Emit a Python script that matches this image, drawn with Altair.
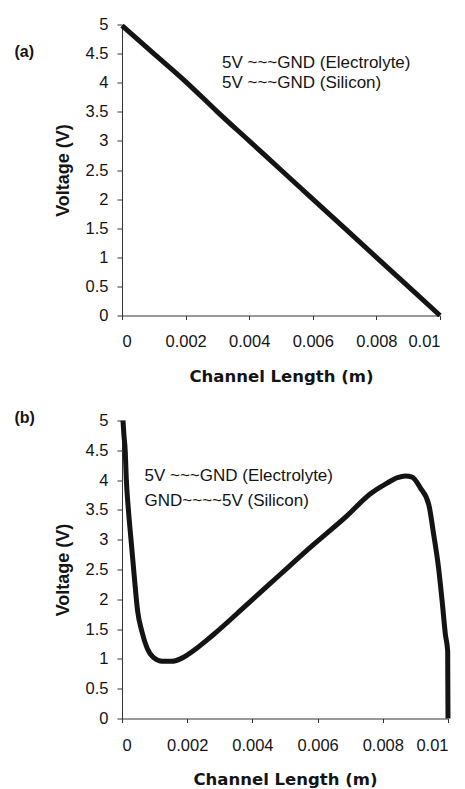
import altair as alt
import pandas as pd

# ---------------- data ----------------
# Panel (a): 5V ~~~GND on both electrolyte and silicon
a_length = [0.0, 0.001, 0.002, 0.003, 0.004, 0.005, 0.006, 0.007, 0.008, 0.009, 0.01]
a_voltage = [4.98, 4.5, 4.02, 3.5, 3.0, 2.5, 2.0, 1.5, 1.0, 0.5, 0.0]

# Panel (b): 5V ~~~GND electrolyte, GND~~~5V silicon
b_length = [0.00003, 0.00006, 0.0001, 0.00013, 0.0002, 0.00029, 0.00038, 0.00048,
            0.00061, 0.00077, 0.00097, 0.00123, 0.00153, 0.00179, 0.00204, 0.00281,
            0.00383, 0.00486, 0.00588, 0.0069, 0.00762, 0.00813, 0.00845, 0.00869,
            0.0089, 0.00915, 0.00941, 0.00956, 0.00971, 0.00982, 0.00992, 0.00999, 0.01]
b_voltage = [5.0, 4.75, 4.48, 4.04, 3.48, 2.92, 2.36, 1.80,
             1.46, 1.18, 1.02, 0.96, 0.96, 1.0, 1.08, 1.41,
             1.91, 2.42, 2.92, 3.40, 3.77, 3.95, 4.04, 4.07,
             4.05, 3.87, 3.59, 3.09, 2.53, 1.97, 1.41, 1.13, 0.0]

x_ticks = [0, 0.002, 0.004, 0.006, 0.008, 0.01]
y_ticks = [0, 0.5, 1, 1.5, 2, 2.5, 3, 3.5, 4, 4.5, 5]

a_legend = ["5V ~~~GND (Electrolyte)", "5V ~~~GND (Silicon)"]
b_legend = ["5V ~~~GND (Electrolyte)", "GND~~~~5V (Silicon)"]
x_title = "Channel Length (m)"
y_title = "Voltage (V)"

FONT = "Liberation Sans"
XFONT = "DejaVu Sans"
INK = "#141414"


def panel(length, voltage, legend, tag, width, height, leg_x, leg_y1, leg_y2,
          tag_y, label_pad, title_pad):
    df = pd.DataFrame({"length": length, "voltage": voltage})
    x = alt.X("length:Q",
              scale=alt.Scale(domain=[0, 0.01], nice=False),
              axis=alt.Axis(values=x_ticks, format="~g", title=x_title, grid=False,
                            tickSize=4, labelPadding=label_pad, titlePadding=title_pad,
                            titleFont=XFONT, titleFontSize=16.5))
    y = alt.Y("voltage:Q",
              scale=alt.Scale(domain=[0, 5], nice=False),
              axis=alt.Axis(values=y_ticks, format="~g", title=y_title, grid=False,
                            tickSize=5, labelPadding=9, titlePadding=13,
                            titleFont=FONT, titleFontSize=18))
    line = alt.Chart(df).mark_line(color=INK, strokeWidth=5,
                                   interpolate="monotone").encode(x=x, y=y)
    t1 = alt.Chart(pd.DataFrame({"t": [legend[0]]})).mark_text(
        align="left", baseline="middle", font=FONT, fontSize=17, color=INK
    ).encode(x=alt.value(leg_x), y=alt.value(leg_y1), text="t:N")
    t2 = alt.Chart(pd.DataFrame({"t": [legend[1]]})).mark_text(
        align="left", baseline="middle", font=FONT, fontSize=17, color=INK
    ).encode(x=alt.value(leg_x), y=alt.value(leg_y2), text="t:N")
    tg = alt.Chart(pd.DataFrame({"t": [tag]})).mark_text(
        align="left", baseline="middle", font=FONT, fontSize=16, fontWeight="bold", color=INK
    ).encode(x=alt.value(-107.5), y=alt.value(tag_y), text="t:N")
    return alt.layer(line, t1, t2, tg).properties(width=width, height=height)


pa = panel(a_length, a_voltage, a_legend, "(a)", 318, 291, 100, 38.5, 58, 27.5, 14, 18.5)
pb = panel(b_length, b_voltage, b_legend, "(b)", 326, 298, 22.5, 55.5, 80, -2.5, 15, 17.5)

chart = alt.vconcat(pa, pb, spacing=24).properties(
    padding={"left": 14, "top": 15.5, "right": 0, "bottom": 0}
).configure_view(strokeWidth=0).configure_axis(
    domainColor="#333333", tickColor="#333333", domainWidth=1, tickWidth=1,
    labelFont=FONT, labelFontSize=16.5, labelColor=INK,
    titleFont=FONT, titleFontSize=17, titleFontWeight="bold", titleColor=INK
)

chart.save("out.html", embed_options={"renderer": "svg", "actions": False})
